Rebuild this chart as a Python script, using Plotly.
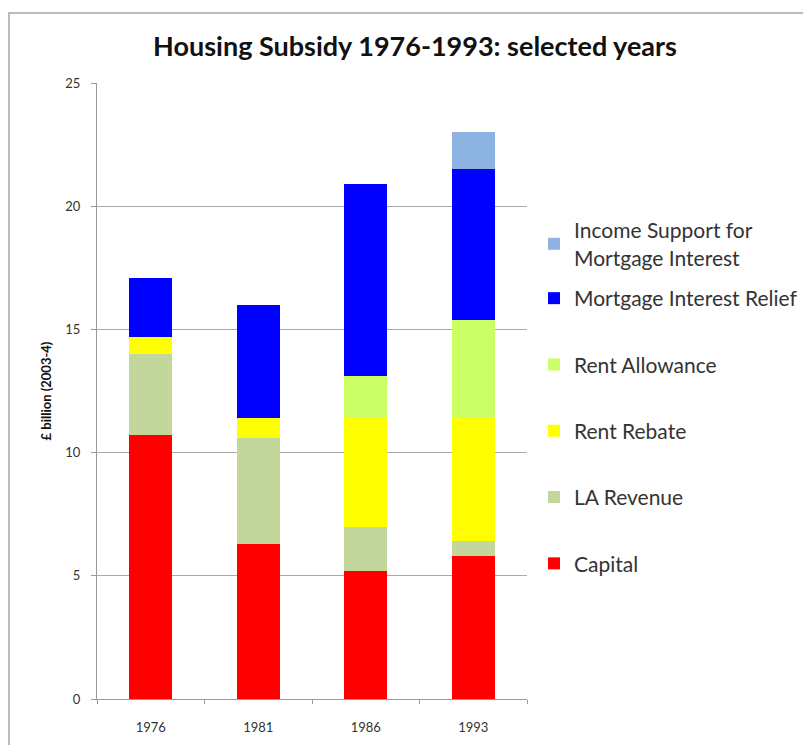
import plotly.graph_objects as go

years = ["1976", "1981", "1986", "1993"]
capital = [10.7, 6.3, 5.2, 5.8]
la_revenue = [3.3, 4.3, 1.8, 0.6]
rent_rebate = [0.7, 0.8, 4.4, 5.0]
rent_allowance = [0.0, 0.0, 1.7, 4.0]
mortgage_relief = [2.4, 4.6, 7.8, 6.1]
income_support = [0.0, 0.0, 0.0, 1.5]

series = [
    ("Capital", capital, "#FF0000", "legend"),
    ("LA Revenue", la_revenue, "#C3D69B", "legend"),
    ("Rent Rebate", rent_rebate, "#FFFF00", "legend"),
    ("Rent Allowance", rent_allowance, "#CCFF66", "legend"),
    ("Mortgage Interest Relief", mortgage_relief, "#0000FF", "legend"),
    ("Income Support for<br>Mortgage Interest", income_support, "#8DB3E2", "legend2"),
]

fig = go.Figure()
n = len(series)
for i, (name, vals, col, lg) in enumerate(series):
    fig.add_trace(go.Bar(
        x=years, y=vals, name=name, marker_color=col,
        marker_line_width=0, legendgroup=str(i), legendrank=n - i, legend=lg,
    ))

# page has an 8px body margin; figure drawn in its own coordinates
OFF = 8
W, H = 811 - OFF, 745 - OFF
L, T = 97 - OFF, 83 - OFF
R = W - (527 - OFF)
B = H - (699 - OFF)
pw, ph = W - L - R, H - T - B

def px_x(p):  # p: page pixel
    return (p - OFF - L) / pw

def px_y(p):
    return (H - B - (p - OFF)) / ph

legend_common = dict(
    xanchor="left", yanchor="top",
    traceorder="grouped", tracegroupgap=36,
    font=dict(size=21, color="#333333"),
    bgcolor="rgba(0,0,0,0)",
)

fig.update_layout(
    width=W, height=H,
    barmode="stack", bargap=0.6,
    margin=dict(l=L, r=R, t=T, b=B, autoexpand=False),
    paper_bgcolor="white", plot_bgcolor="white",
    font=dict(family="Lato, Liberation Sans, sans-serif", color="#333333"),
    title=dict(
        text="<b>Housing Subsidy 1976-1993: selected years</b>",
        x=px_x(415), xref="paper", xanchor="center",
        y=1 - (47 - OFF) / H, yanchor="middle",
        font=dict(size=27, color="#111111"),
    ),
    xaxis=dict(
        showline=True, linecolor="#999999", linewidth=1,
        ticks="outside", tickson="boundaries", ticklen=4, tickcolor="#999999",
        ticklabelstandoff=16,
        tickfont=dict(size=13, color="#333333"),
    ),
    yaxis=dict(
        range=[0, 25], dtick=5,
        showline=True, linecolor="#999999", linewidth=1,
        showgrid=True, gridcolor="#AAAAAA", gridwidth=1,
        ticks="outside", ticklen=5, tickcolor="#999999",
        ticklabelstandoff=8,
        tickfont=dict(size=13, color="#333333"),
        title=dict(text="<b>£ billion (2003-4)</b>", font=dict(size=13, color="#111111"), standoff=10),
    ),
    legend=dict(x=px_x(534), y=px_y(278), **legend_common),
    legend2=dict(x=px_x(534), y=px_y(210), **legend_common),
    shapes=[dict(
        type="rect", xref="paper", yref="paper",
        x0=px_x(OFF + 1), x1=px_x(840), y0=px_y(770), y1=px_y(13),
        line=dict(color="#BBBBBB", width=2), fillcolor="rgba(0,0,0,0)", layer="below",
    )],
)

fig.write_html("out.html")
